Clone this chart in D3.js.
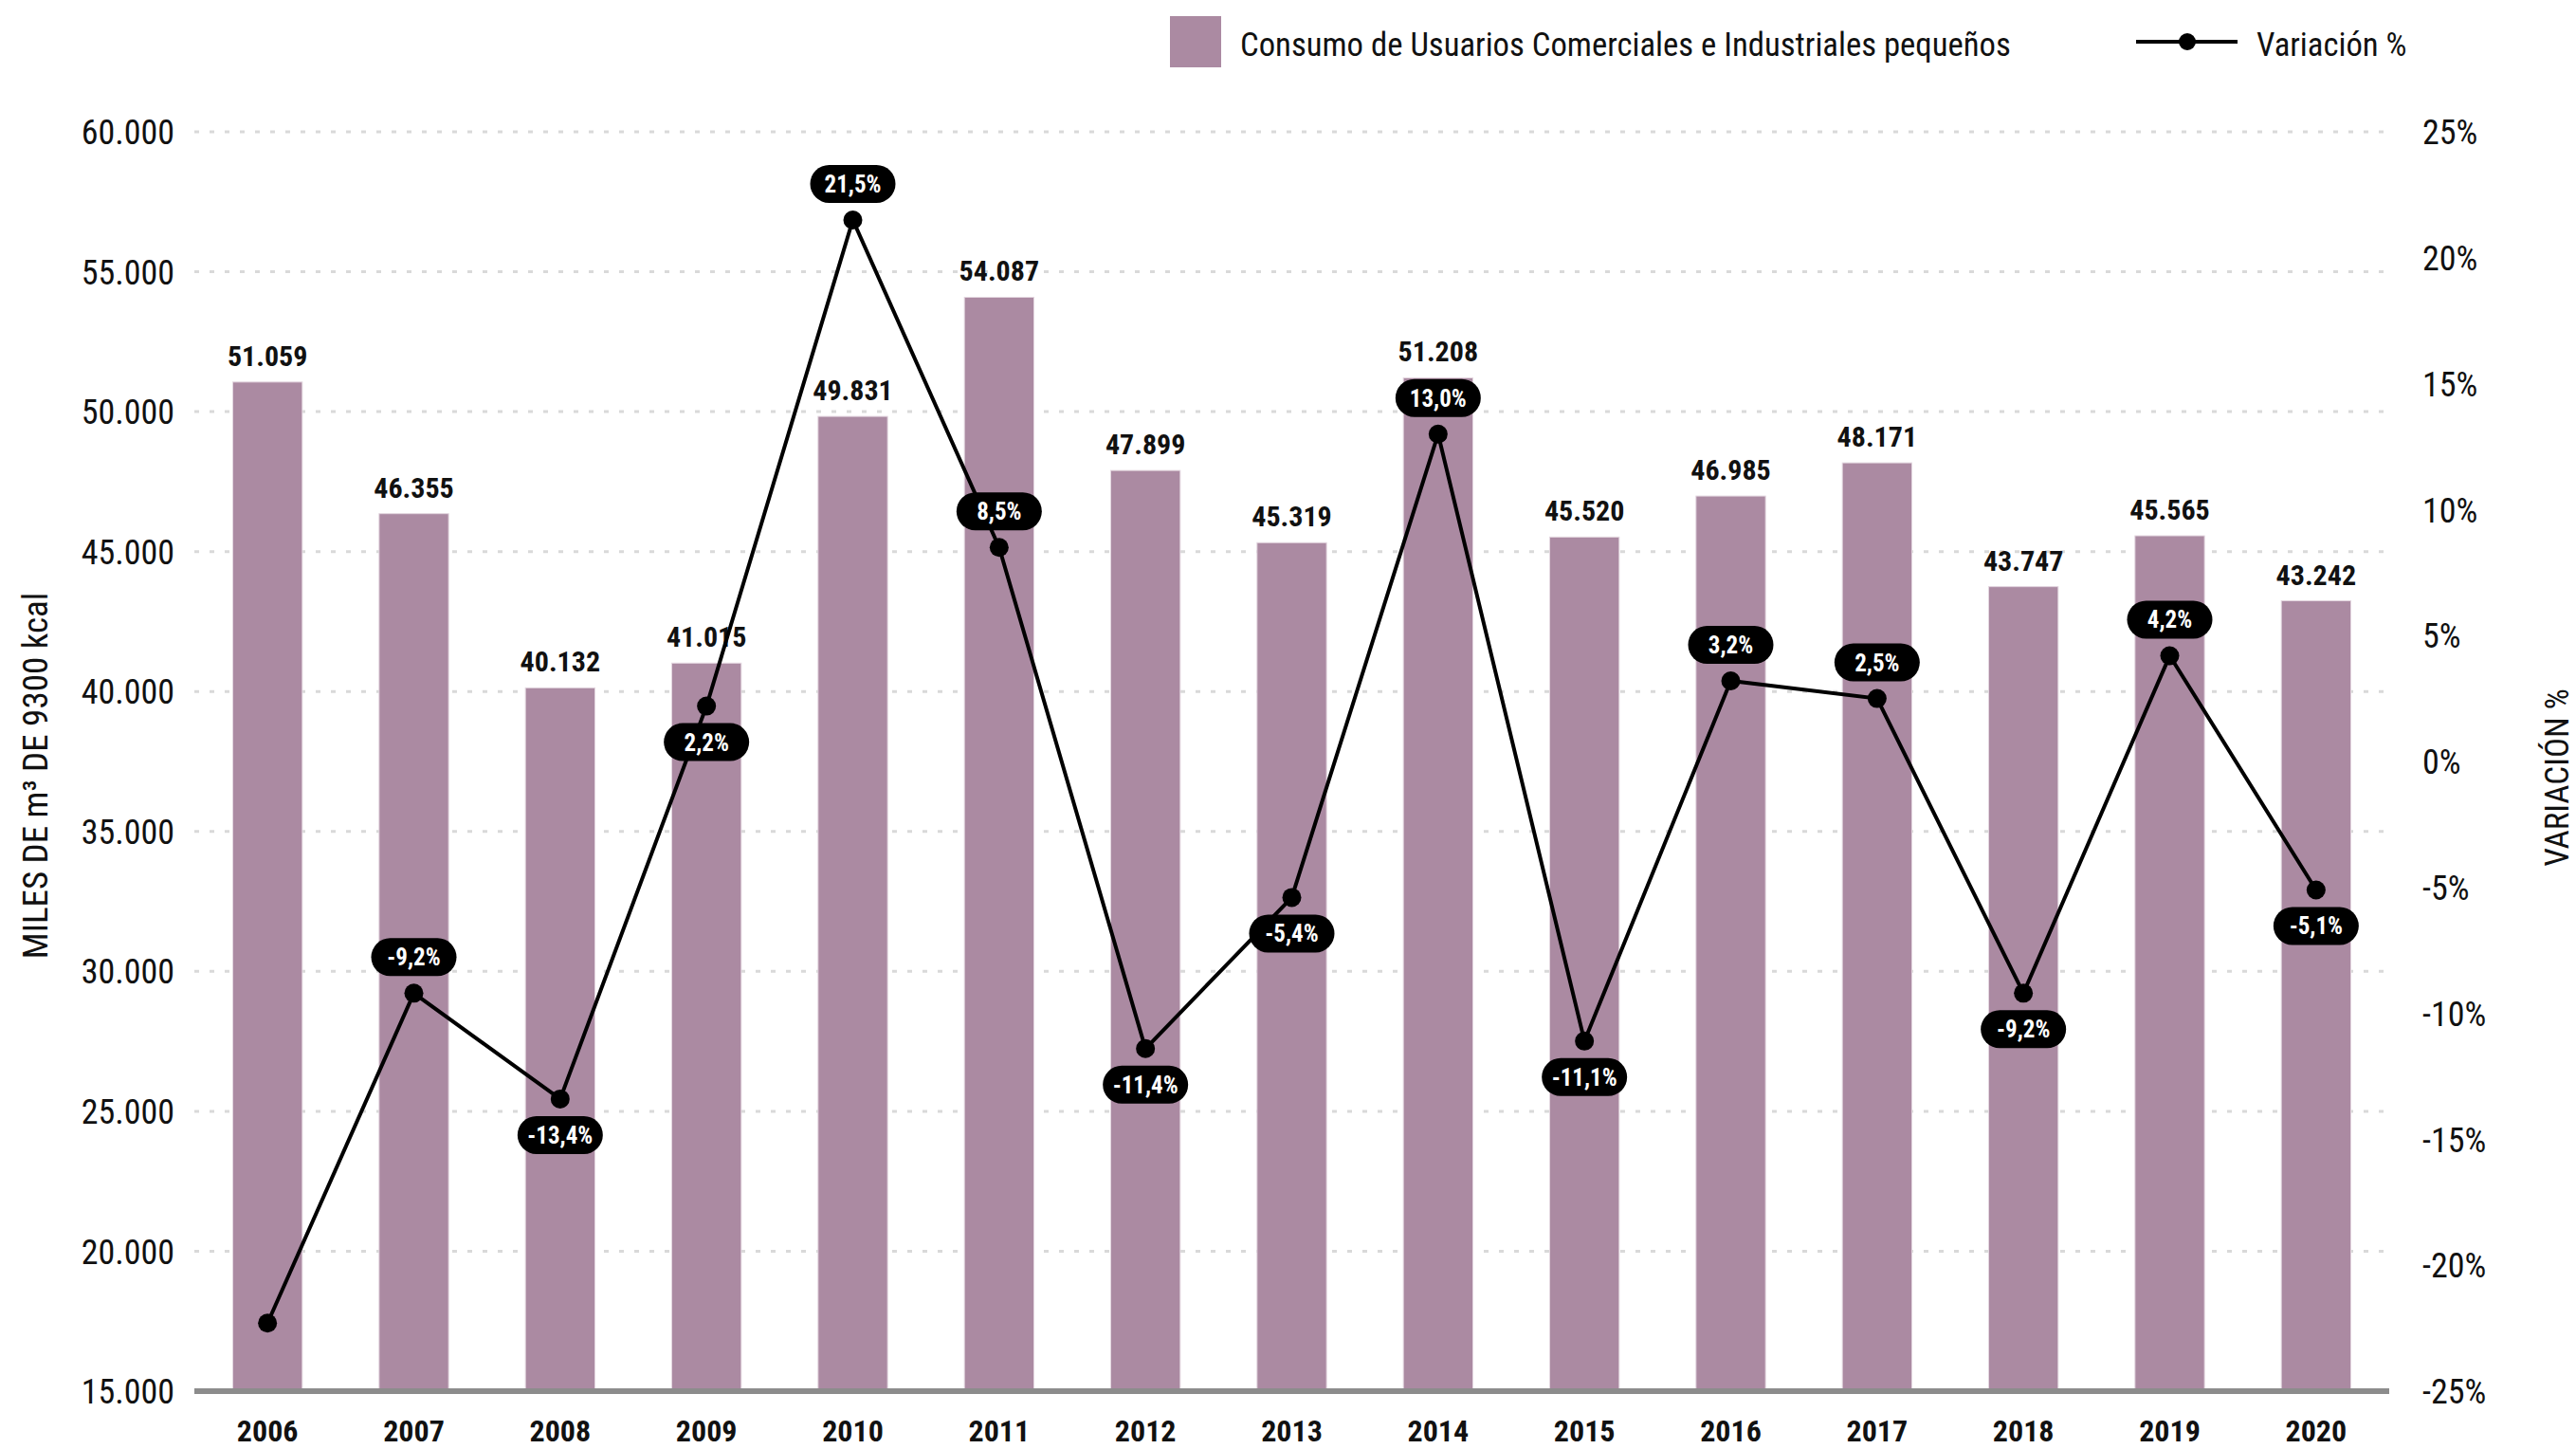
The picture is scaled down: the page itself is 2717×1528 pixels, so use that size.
<!DOCTYPE html>
<html>
<head>
  <meta charset="utf-8">
  <script src="https://d3js.org/d3.v7.min.js"></script>
  <style>
    body { margin: 0; background: #fff; }
    text { font-family: "Roboto Condensed", "Liberation Sans Narrow", "Arial Narrow", Roboto, sans-serif; }
  </style>
</head>
<body>
  <div id="chart"></div>
<script>
  // data
  var years = ["2006","2007","2008","2009","2010","2011","2012","2013","2014","2015","2016","2017","2018","2019","2020"];
  var consumo = [51059, 46355, 40132, 41015, 49831, 54087, 47899, 45319, 51208, 45520, 46985, 48171, 43747, 45565, 43242];
  var variacion = [-22.3, -9.2, -13.4, 2.2, 21.5, 8.5, -11.4, -5.4, 13.0, -11.1, 3.2, 2.5, -9.2, 4.2, -5.1];
  // where the pill label sits: 1 above the point, -1 below, 0 none
  var labelSide = [0, 1, -1, -1, 1, 1, -1, -1, 1, -1, 1, 1, -1, 1, -1];
  var leftTicks = [15000, 20000, 25000, 30000, 35000, 40000, 45000, 50000, 55000, 60000];
  var rightTicks = [-25, -20, -15, -10, -5, 0, 5, 10, 15, 20, 25];

  var W = 2717, H = 1528;
  var margin = {top: 139, right: W - 2520, bottom: H - 1467, left: 205};
  var width = W - margin.left - margin.right,
      height = H - margin.top - margin.bottom;

  var svg = d3.select("#chart").append("svg")
      .attr("width", W)
      .attr("height", H);

  var g = svg.append("g")
      .attr("transform", "translate(" + margin.left + "," + margin.top + ")");

  var x = d3.scaleBand().domain(years).range([0, width]).padding(0);
  var y = d3.scaleLinear().domain([15000, 60000]).range([height, 0]);
  var y2 = d3.scaleLinear().domain([-25, 25]).range([height, 0]);

  var fmtMiles = d3.formatLocale({decimal: ",", thousands: ".", grouping: [3], currency: ["", ""]}).format(",d");
  function fmtPct(v) { return v.toFixed(1).replace(".", ",") + "%"; }

  // grid
  g.append("g").selectAll("line")
    .data(leftTicks.slice(1))
    .enter().append("line")
      .attr("x1", 0).attr("x2", width)
      .attr("y1", function(d) { return y(d); })
      .attr("y2", function(d) { return y(d); })
      .style("stroke", "#d9d9d9")
      .style("stroke-width", 3)
      .style("stroke-dasharray", "5,11");

  // left axis
  var yAxis = g.append("g")
    .attr("transform", "translate(-18,0)")
    .call(d3.axisLeft(y).tickValues(leftTicks).tickSize(0).tickFormat(fmtMiles));
  yAxis.select(".domain").remove();
  yAxis.selectAll("text")
    .style("font-size", "36px")
    .style("fill", "#111")
    .attr("dy", "0.35em");

  // right axis
  var yAxis2 = g.append("g")
    .attr("transform", "translate(" + (width + 35) + ",0)")
    .call(d3.axisRight(y2).tickValues(rightTicks).tickSize(0).tickFormat(function(d) { return d + "%"; }));
  yAxis2.select(".domain").remove();
  yAxis2.selectAll("text")
    .attr("x", 0)
    .style("font-size", "36px")
    .style("fill", "#111")
    .attr("dy", "0.35em");

  // bars
  var barW = x.bandwidth() * 0.475;
  g.append("g").selectAll("rect")
    .data(consumo)
    .enter().append("rect")
      .attr("x", function(d, i) { return x(years[i]) + x.bandwidth() / 2 - barW / 2; })
      .attr("y", function(d) { return y(d); })
      .attr("width", barW)
      .attr("height", function(d) { return height - y(d); })
      .style("fill", "#ab8aa2")
      .style("stroke", "#e3d6df")
      .style("stroke-width", 1);

  // bar values
  g.append("g").selectAll("text")
    .data(consumo)
    .enter().append("text")
      .attr("x", function(d, i) { return x(years[i]) + x.bandwidth() / 2; })
      .attr("y", function(d) { return y(d) - 17; })
      .attr("text-anchor", "middle")
      .style("font-size", "30px")
      .style("font-weight", "bold")
      .style("fill", "#111")
      .text(function(d) { return fmtMiles(d); });

  // baseline
  g.append("line")
    .attr("x1", 0).attr("x2", width)
    .attr("y1", height).attr("y2", height)
    .style("stroke", "#8c8c8c")
    .style("stroke-width", 6);

  // x labels
  g.append("g").selectAll("text")
    .data(years)
    .enter().append("text")
      .attr("x", function(d) { return x(d) + x.bandwidth() / 2; })
      .attr("y", height + 53)
      .attr("text-anchor", "middle")
      .style("font-size", "32px")
      .style("font-weight", "bold")
      .style("fill", "#111")
      .text(function(d) { return d; });

  // variation line
  var line = d3.line()
    .x(function(d, i) { return x(years[i]) + x.bandwidth() / 2; })
    .y(function(d) { return y2(d); });

  g.append("path")
    .datum(variacion)
    .attr("d", line)
    .style("fill", "none")
    .style("stroke", "#000")
    .style("stroke-width", 4);

  g.append("g").selectAll("circle")
    .data(variacion)
    .enter().append("circle")
      .attr("cx", function(d, i) { return x(years[i]) + x.bandwidth() / 2; })
      .attr("cy", function(d) { return y2(d); })
      .attr("r", 10)
      .style("fill", "#000");

  // pill labels
  var pills = g.append("g").selectAll("g")
    .data(variacion.map(function(v, i) { return {v: v, i: i}; }).filter(function(d) { return labelSide[d.i] !== 0; }))
    .enter().append("g")
      .attr("transform", function(d) {
        return "translate(" + (x(years[d.i]) + x.bandwidth() / 2) + "," + (y2(d.v) - 38 * labelSide[d.i]) + ")";
      });
  pills.append("rect")
    .attr("x", -45).attr("y", -20)
    .attr("width", 90).attr("height", 40)
    .attr("rx", 20)
    .style("fill", "#000");
  pills.append("text")
    .attr("text-anchor", "middle")
    .attr("dy", "0.36em")
    .style("font-size", "25px")
    .style("font-weight", "bold")
    .style("fill", "#fff")
    .text(function(d) { return fmtPct(d.v); });

  // axis titles
  svg.append("text")
    .attr("transform", "translate(50,818) rotate(-90)")
    .attr("text-anchor", "middle")
    .style("font-size", "37px")
    .style("fill", "#111")
    .text("MILES DE m³ DE 9300 kcal");

  svg.append("text")
    .attr("transform", "translate(2709,820) rotate(-90)")
    .attr("text-anchor", "middle")
    .style("font-size", "35px")
    .style("fill", "#111")
    .text("VARIACIÓN %");

  // legend
  var legend = svg.append("g");
  legend.append("rect")
    .attr("x", 1234).attr("y", 17)
    .attr("width", 54).attr("height", 54)
    .style("fill", "#ab8aa2");
  legend.append("text")
    .attr("x", 1308).attr("y", 47)
    .attr("dy", "0.35em")
    .style("font-size", "34.7px")
    .style("fill", "#111")
    .text("Consumo de Usuarios Comerciales e Industriales pequeños");
  legend.append("line")
    .attr("x1", 2253).attr("x2", 2360)
    .attr("y1", 44).attr("y2", 44)
    .style("stroke", "#000")
    .style("stroke-width", 4);
  legend.append("circle")
    .attr("cx", 2307).attr("cy", 44).attr("r", 9)
    .style("fill", "#000");
  legend.append("text")
    .attr("x", 2380).attr("y", 47)
    .attr("dy", "0.35em")
    .style("font-size", "34.7px")
    .style("fill", "#111")
    .text("Variación %");
</script>
</body>
</html>
